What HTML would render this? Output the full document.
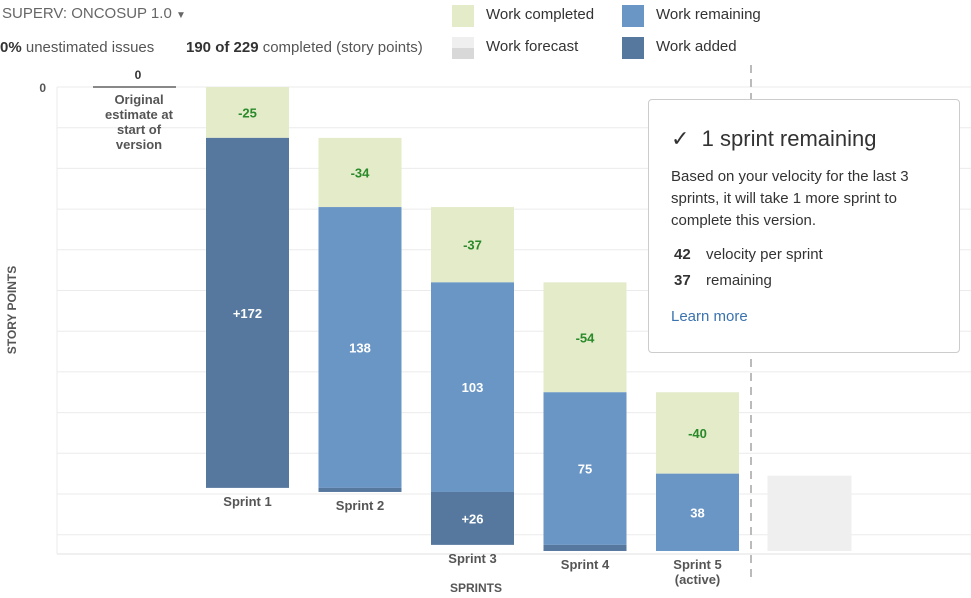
<!DOCTYPE html>
<html><head><meta charset="utf-8"><style>
body{margin:0;width:971px;height:598px;overflow:hidden;background:#fff;font-family:"Liberation Sans",Arial,sans-serif;color:#333;position:relative}
.abs{position:absolute}
.sw{position:absolute;width:22px;height:22px}
.lg{position:absolute;font-size:15px;color:#333}
#tip{position:absolute;left:648px;top:99px;width:312px;height:254px;border:1px solid #ccc;border-radius:4px;background:#fff;box-sizing:border-box;padding:0 22px}
</style></head><body>
<div class="abs" style="left:2px;top:5px;font-size:15px;color:#666">SUPERV: ONCOSUP 1.0 <span style="font-size:10px">▼</span></div>
<div class="abs" style="left:0;top:39px;font-size:15px;color:#555"><b style="color:#333">0%</b> unestimated issues</div>
<div class="abs" style="left:186px;top:39px;font-size:15px;color:#555"><b style="color:#333">190 of 229</b> completed (story points)</div>
<div class="sw" style="left:452px;top:5px;background:#e3ebc9"></div>
<div class="lg" style="left:486px;top:6px">Work completed</div>
<div class="sw" style="left:452px;top:37px;background:linear-gradient(#efefef 50%,#d8d8d8 50%)"></div>
<div class="lg" style="left:486px;top:38px">Work forecast</div>
<div class="sw" style="left:622px;top:5px;background:#6a96c5"></div>
<div class="lg" style="left:656px;top:6px">Work remaining</div>
<div class="sw" style="left:622px;top:37px;background:#56789e"></div>
<div class="lg" style="left:656px;top:38px">Work added</div>

<svg id="chart" class="abs" style="left:0;top:0" width="971" height="598"></svg>

<div id="tip">
<div style="margin-top:26px;font-size:22px;color:#333">✓&nbsp; 1 sprint remaining</div>
<div style="margin-top:14px;font-size:15px;line-height:22px;color:#333">Based on your velocity for the last 3 sprints, it will take 1 more sprint to complete this version.</div>
<div style="margin-top:10px;font-size:15px;line-height:26px"><b style="display:inline-block;width:32px;padding-left:3px">42</b>velocity per sprint</div>
<div style="font-size:15px;line-height:26px"><b style="display:inline-block;width:32px;padding-left:3px">37</b>remaining</div>
<div style="margin-top:14px;font-size:15px;color:#3b73af">Learn more</div>
</div>

<script>
const categories = ["Sprint 1","Sprint 2","Sprint 3","Sprint 4","Sprint 5"];
const completed = [25,34,37,54,40];
const remaining = [0,138,103,75,38];
const added = [172,2,26,3,0];
const forecast = [37];
const yTicks = [0,20,40,60,80,100,120,140,160,180,200,220];

const NS="http://www.w3.org/2000/svg";
const svg=document.getElementById('chart');
const y0=87, pxPer=2.035;
const y=v=>y0+v*pxPer;
const xStart=206, step=112.5, bw=83;
const x=i=>xStart+i*step;
function el(tag,attrs,parent){const e=document.createElementNS(NS,tag);for(const k in attrs)e.setAttribute(k,attrs[k]);(parent||svg).appendChild(e);return e;}
function txt(s,attrs){const t=el('text',attrs);t.textContent=s;return t;}

yTicks.forEach(v=>{
  const l=el('line',{x1:57,x2:971,y1:y(v),y2:y(v),stroke:'#ebebeb','stroke-width':1});
  
  
});
const base=el('line',{x1:57,x2:971,y1:554,y2:554,stroke:'#e0e0e0'});


const yl=el('line',{x1:57,x2:57,y1:87,y2:554,stroke:'#ebebeb'});


const t0=txt('0',{x:46,y:y(0)+5,'font-size':12,'font-weight':'bold',fill:'#555','text-anchor':'end'});



const yt=txt('STORY POINTS',{x:16,y:310,'font-size':12,'font-weight':'bold',fill:'#555','text-anchor':'middle',transform:'rotate(-90 16 310)'});


const xt=txt('SPRINTS',{x:476,y:592,'font-size':12,'font-weight':'bold',fill:'#555','text-anchor':'middle'});



const oe=el('line',{x1:93,x2:176,y1:y(0),y2:y(0),stroke:'#888','stroke-width':2});


const oev=txt('0',{x:138,y:79,'font-size':12,'font-weight':'bold',fill:'#333','text-anchor':'middle'});


["Original","estimate at","start of","version"].forEach((s,i)=>{
  const t=txt(s,{x:139,y:104+i*15,'font-size':13,'font-weight':'bold',fill:'#555','text-anchor':'middle'});
  
  
});

let stackTop=0;
categories.forEach((c,i)=>{
  const xi=x(i); let cur=stackTop;
  const segs=[[completed[i],'#e3ebc9','completed','-','#2a8a2a'],[remaining[i],'#6a96c5','remaining','','#fff'],[added[i],'#56789e','added','+','#fff']];
  segs.forEach(([v,col,name,pre,tc])=>{
    if(v<=0)return;
    const r=el('rect',{x:xi,y:y(cur),width:bw,height:v*pxPer,fill:col});
    
    
    if(v*pxPer>20){
      const t=txt(pre+v,{x:xi+bw/2,y:y(cur+v/2)+5,'font-size':13,'font-weight':'bold',fill:tc,'text-anchor':'middle'});
      
      
    }
    cur+=v;
  });
  const lab=txt(c,{x:xi+bw/2,y:y(cur)+18,'font-size':13,'font-weight':'bold',fill:'#555','text-anchor':'middle'});
  
  
  if(i===categories.length-1){
    const l2=txt('(active)',{x:xi+bw/2,y:y(cur)+33,'font-size':13,'font-weight':'bold',fill:'#555','text-anchor':'middle'});
    
    
  }
  stackTop+=completed[i];
});
const total=stackTop+remaining[4];
const fr=el('rect',{x:x(5)-1,y:y(total-forecast[0]),width:bw+1,height:forecast[0]*pxPer,fill:'#efefef'});


const dl=el('line',{x1:751,x2:751,y1:65,y2:578,stroke:'#bbb','stroke-width':2,'stroke-dasharray':'8,6'});


</script>
</body></html>
